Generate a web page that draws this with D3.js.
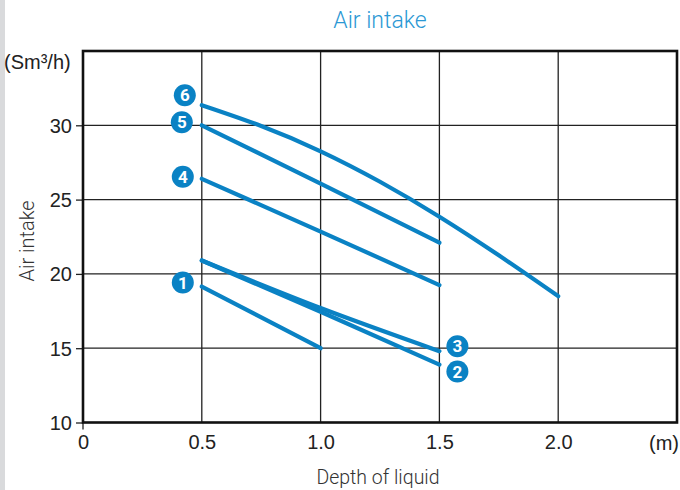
<!DOCTYPE html>
<html><head><meta charset="utf-8">
<script src="https://cdn.jsdelivr.net/npm/d3@7"></script>
<style>
html,body{margin:0;padding:0;background:#fff;}
svg{display:block;}
</style></head>
<body>
<svg id="c" width="680" height="490"></svg>
<script>
// ---- data ----
const xTicks = [0, 0.5, 1.0, 1.5, 2.0];
const xTickLabels = ["0", "0.5", "1.0", "1.5", "2.0"];
const yTicks = [10, 15, 20, 25, 30];
const series1 = [{x:0.5,y:19.15},{x:1.0,y:15.0}];
const series2 = [{x:0.5,y:20.9},{x:1.0,y:17.45},{x:1.5,y:13.9}];
const series3 = [{x:0.5,y:20.9},{x:1.0,y:17.7},{x:1.5,y:14.8}];
const series4 = [{x:0.5,y:26.4},{x:1.0,y:22.85},{x:1.5,y:19.25}];
const series5 = [{x:0.5,y:30.0},{x:1.0,y:26.08},{x:1.5,y:22.1}];
const series6 = [{x:0.5,y:31.35},{x:0.75,y:29.95},{x:1.0,y:28.25},{x:1.25,y:26.2},{x:1.5,y:23.85},{x:1.75,y:21.25},{x:2.0,y:18.5}];
const seriesNames = ["1","2","3","4","5","6"];
const title = "Air intake";
const yTitle = "Air intake";
const xTitle = "Depth of liquid";
const yUnit = "(Sm³/h)";
const xUnit = "(m)";

const allSeries = [series1, series2, series3, series4, series5, series6];
// badge anchor: which end of the line and pixel offset
const badgeAnchor = [
  {end:"start", dx:-19, dy:-4},
  {end:"end", dx:18, dy:7},
  {end:"end", dx:18, dy:-5},
  {end:"start", dx:-19, dy:-2},
  {end:"start", dx:-20, dy:-3},
  {end:"start", dx:-17, dy:-10}
];

const svg = d3.select("#c");
const blue = "#0a82c4";
const numFont = "Liberation Sans, Arial, sans-serif";

// grey strip on left
svg.append("rect").attr("x",0).attr("y",0).attr("width",5).attr("height",490).attr("fill","#d9dadc");

const x = d3.scaleLinear().domain([0, 2.5]).range([83, 677]);
const y = d3.scaleLinear().domain([10, 35]).range([422.5, 51]);

// grid
const g = svg.append("g");
g.selectAll(".vg").data(xTicks.slice(1)).join("line")
  .attr("x1", d=>x(d)).attr("x2", d=>x(d)).attr("y1", y(35)).attr("y2", y(10))
  .attr("stroke","#222").attr("stroke-width",1.3);
g.selectAll(".hg").data(yTicks.slice(1)).join("line")
  .attr("y1", d=>y(d)).attr("y2", d=>y(d)).attr("x1", x(0)).attr("x2", x(2.5))
  .attr("stroke","#222").attr("stroke-width",1.3);

// y axis ticks & labels
const yAxis = d3.axisLeft(y).tickValues(yTicks).tickSize(7).tickPadding(4);
const ya = svg.append("g").attr("transform",`translate(${x(0)},0)`).call(yAxis);
ya.select(".domain").remove();
ya.selectAll(".tick line").attr("stroke","#222").attr("stroke-width",1.3);
ya.selectAll(".tick text").attr("font-family",numFont).attr("font-size",20).attr("fill","#222").attr("dy","0.34em");

// x axis labels
const xAxis = d3.axisBottom(x).tickValues(xTicks).tickFormat((d,i)=>xTickLabels[i]).tickSize(0).tickPadding(12);
const xa = svg.append("g").attr("transform",`translate(0,${y(10)})`).call(xAxis);
xa.select(".domain").remove();
xa.selectAll(".tick text").attr("font-family",numFont).attr("font-size",20).attr("fill","#222");
// small tick below 0
svg.append("line").attr("x1",x(0)).attr("x2",x(0)).attr("y1",y(10)).attr("y2",y(10)+7).attr("stroke","#222").attr("stroke-width",1.3);

// frame
svg.append("rect").attr("x",x(0)).attr("y",y(35)).attr("width",x(2.5)-x(0)).attr("height",y(10)-y(35))
  .attr("fill","none").attr("stroke","#111").attr("stroke-width",2.6);

// lines
const line = d3.line().x(d=>x(d.x)).y(d=>y(d.y)).curve(d3.curveNatural);
svg.selectAll(".ser").data(allSeries).join("path")
  .attr("d", d=>line(d)).attr("fill","none").attr("stroke",blue).attr("stroke-width",4.2).attr("stroke-linecap","round");

// badges
const badges = svg.selectAll(".badge").data(allSeries).join("g")
  .attr("transform",(d,i)=>{
    const a = badgeAnchor[i];
    const p = a.end==="start" ? d[0] : d[d.length-1];
    return `translate(${x(p.x)+a.dx},${y(p.y)+a.dy})`;
  });
badges.append("circle").attr("r",11).attr("fill",blue);
badges.append("text").text((d,i)=>seriesNames[i]).attr("text-anchor","middle").attr("dy","0.36em")
  .attr("font-family","Roboto, sans-serif").attr("font-weight","bold").attr("font-size",17).attr("fill","#fff");

// titles
svg.append("text").text(title).attr("x",380).attr("y",28).attr("text-anchor","middle")
  .attr("font-family","Roboto, sans-serif").attr("font-weight",300).attr("font-size",23).attr("fill","#2b98d4");
svg.append("text").text(yUnit).attr("x",4).attr("y",69)
  .attr("font-family",numFont).attr("font-size",20).attr("fill","#222");
svg.append("text").text(xUnit).attr("x",664).attr("y",450).attr("text-anchor","middle")
  .attr("font-family",numFont).attr("font-size",20).attr("fill","#222");
svg.append("text").text(xTitle).attr("x",378).attr("y",484).attr("text-anchor","middle")
  .attr("font-family","Roboto, sans-serif").attr("font-weight",300).attr("font-size",19.5).attr("fill","#333");
svg.append("text").text(yTitle).attr("transform","translate(34,241) rotate(-90)").attr("text-anchor","middle")
  .attr("font-family","Roboto, sans-serif").attr("font-weight",300).attr("font-size",20).attr("fill","#333");
</script>
</body></html>
